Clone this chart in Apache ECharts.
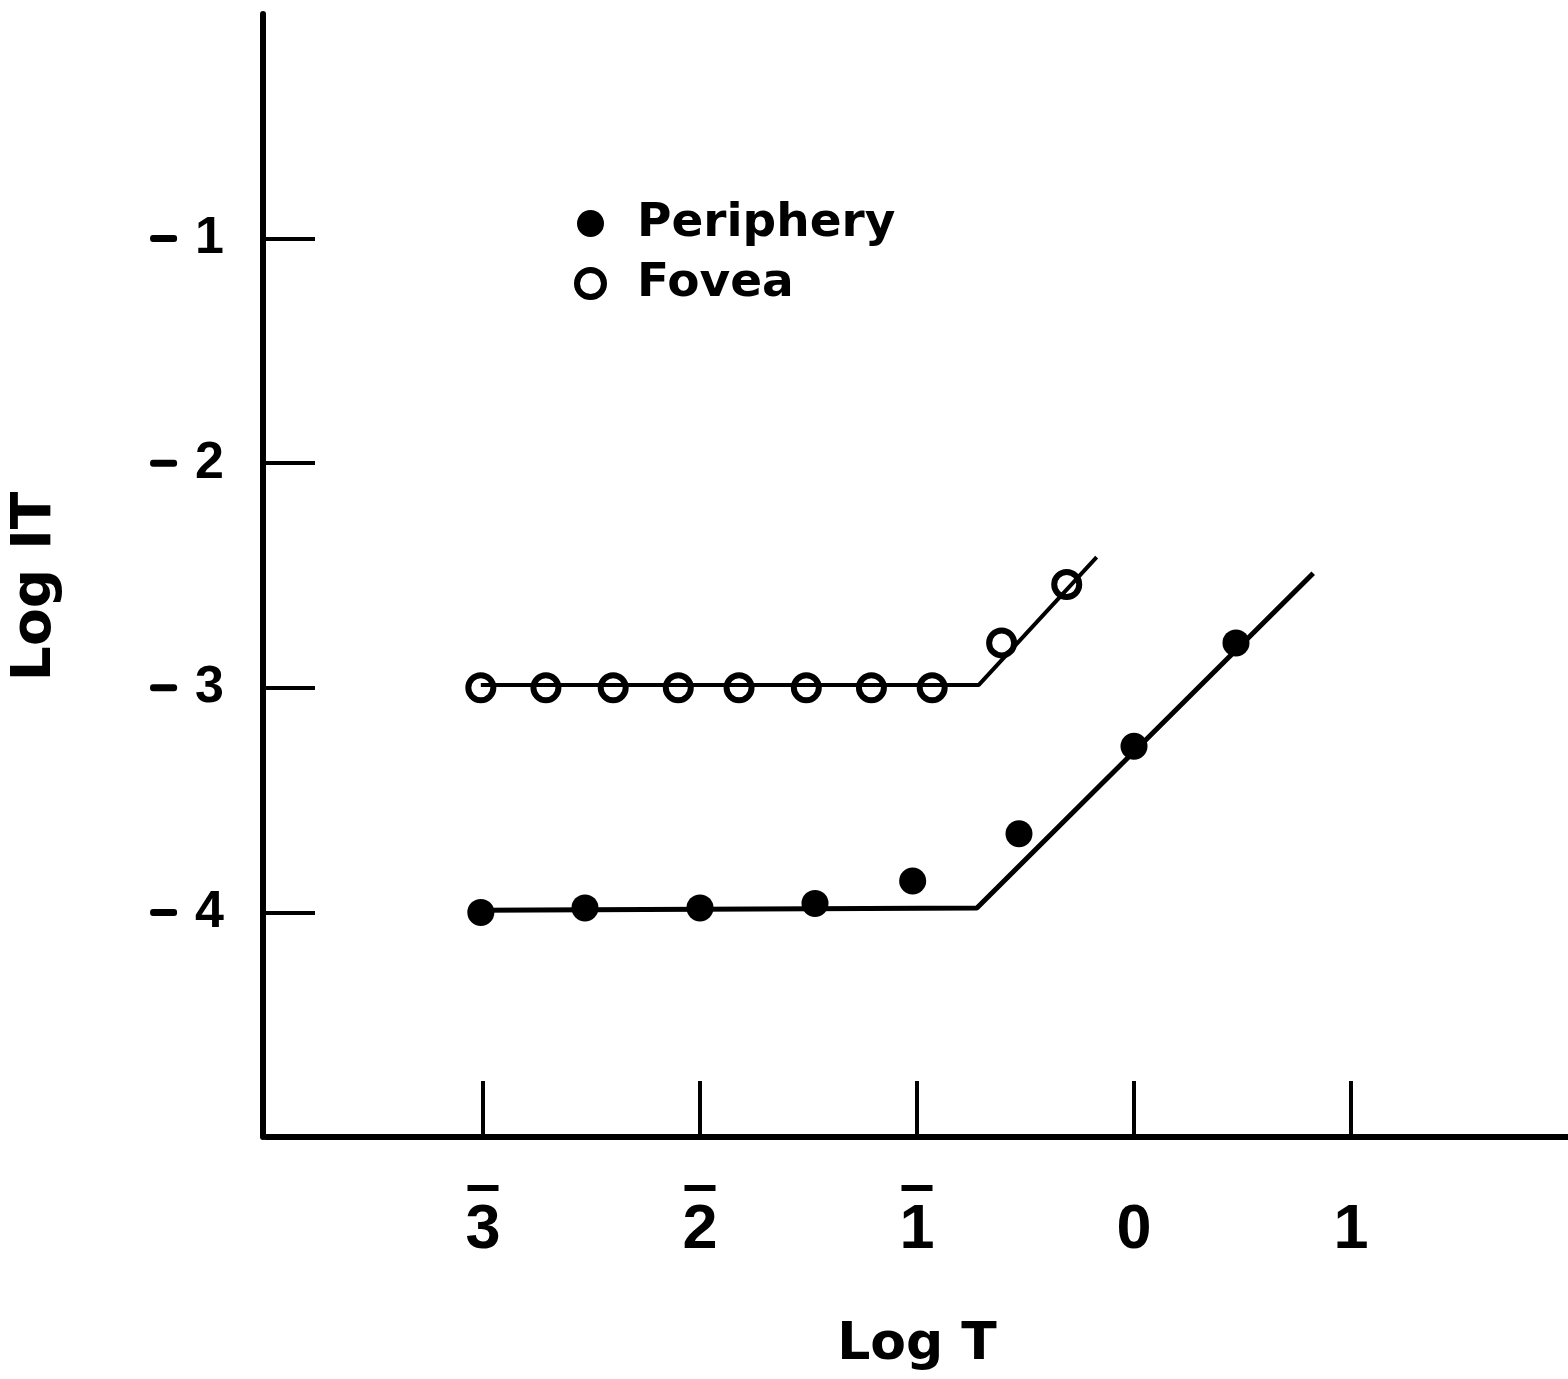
<!DOCTYPE html>
<html>
<head>
<meta charset="utf-8">
<script src="https://cdn.jsdelivr.net/npm/echarts@6/dist/echarts.min.js"></script>
<style>
html,body{margin:0;padding:0;background:#fff;}
#chart{width:1568px;height:1379px;}
</style>
</head>
<body>
<div id="chart"></div>
<script>
// ---- data ----
var xTicks = [-3, -2, -1, 0, 1];
var yTicks = [-4, -3, -2, -1];
var foveaX = [-3.01, -2.71, -2.40, -2.10, -1.82, -1.51, -1.21, -0.93, -0.61, -0.31];
var foveaY = [-3.00, -3.00, -3.00, -3.00, -3.00, -3.00, -3.00, -3.00, -2.80, -2.54];
var periX = [-3.01, -2.53, -2.00, -1.47, -1.02, -0.53, 0.00, 0.47];
var periY = [-4.00, -3.98, -3.98, -3.96, -3.86, -3.65, -3.26, -2.80];
var foveaFitX = [-3.01, -0.715, -0.172];
var foveaFitY = [-2.987, -2.987, -2.418];
var periFitX = [-3.01, -0.724, 0.826];
var periFitY = [-3.99, -3.98, -2.49];

function pairs(xs, ys) { return xs.map(function (x, i) { return [x, ys[i]]; }); }

var chart = echarts.init(document.getElementById('chart'));
var digitFont = 'Liberation Sans';
var textFont = 'DejaVu Sans';

chart.setOption({
  animation: false,
  backgroundColor: '#fff',
  grid: { left: 266, right: 0, top: 14, bottom: 242, containLabel: false },
  legend: {
    orient: 'vertical',
    left: 569,
    top: 195,
    itemWidth: 27,
    itemHeight: 27,
    itemGap: 13,
    icon: 'circle',
    textStyle: { fontFamily: textFont, fontWeight: 'bold', fontSize: 47, color: '#000', padding: [0, 0, 0, 28] },
    data: [
      { name: 'Periphery', itemStyle: { color: '#000', borderWidth: 0 } },
      { name: 'Fovea', itemStyle: { color: '#fff', borderColor: '#000', borderWidth: 6 } }
    ]
  },
  xAxis: {
    type: 'value', min: -4, max: 2, interval: 1,
    name: 'Log T', nameLocation: 'middle', nameGap: 182,
    nameTextStyle: { fontFamily: textFont, fontWeight: 'bold', fontSize: 52, color: '#000' },
    axisLine: { show: true, onZero: false, lineStyle: { color: '#000', width: 6 } },
    axisTick: { show: true, inside: true, length: 56, customValues: xTicks, lineStyle: { color: '#000', width: 4 } },
    splitLine: { show: false },
    axisLabel: {
      customValues: xTicks, margin: 48, color: '#000',
      formatter: function (v) {
        return (v < 0 ? '{bar|\u2003}' : '{nob|\u2003}') + '\n{d|' + Math.abs(v) + '}';
      },
      rich: {
        bar: { backgroundColor: '#000', width: 31, height: 6, lineHeight: 6, fontSize: 4 },
        nob: { width: 31, height: 6, lineHeight: 6, fontSize: 4 },
        d: { fontFamily: digitFont, fontWeight: 'bold', fontSize: 63, lineHeight: 80, color: '#000' }
      }
    }
  },
  yAxis: {
    type: 'value', min: -5, max: 0, interval: 1, offset: 3,
    name: 'Log IT', nameLocation: 'middle', nameGap: 200, nameRotate: 90,
    nameTextStyle: { fontFamily: textFont, fontWeight: 'bold', fontSize: 55, color: '#000', padding: [0, 22, 0, 0] },
    axisLine: { show: true, onZero: false, lineStyle: { color: '#000', width: 6 } },
    axisTick: { show: true, inside: true, length: 52, customValues: yTicks, lineStyle: { color: '#000', width: 4 } },
    splitLine: { show: false },
    axisLabel: {
      customValues: yTicks, margin: 39, color: '#000',
      formatter: function (v) { return '{m|\u2003}{s|\u2003}{d|' + Math.abs(v) + '}'; },
      rich: {
        m: { backgroundColor: '#000', width: 27, height: 7, lineHeight: 7, fontSize: 4, borderRadius: 3 },
        s: { width: 18, fontSize: 4 },
        d: { fontFamily: digitFont, fontWeight: 'bold', fontSize: 52, color: '#000' }
      }
    }
  },
  series: [
    {
      name: 'FoveaFit', type: 'line', data: pairs(foveaFitX, foveaFitY),
      showSymbol: false, silent: true, lineStyle: { color: '#000', width: 4 }, z: 2
    },
    {
      name: 'PeripheryFit', type: 'line', data: pairs(periFitX, periFitY),
      showSymbol: false, silent: true, lineStyle: { color: '#000', width: 5 }, z: 2
    },
    {
      name: 'Periphery', type: 'scatter', data: pairs(periX, periY),
      symbol: 'circle', symbolSize: 27, itemStyle: { color: '#000', opacity: 1 }, z: 3
    },
    {
      name: 'Fovea', type: 'scatter', data: pairs(foveaX, foveaY),
      symbol: 'circle', symbolSize: 25, itemStyle: { color: 'rgba(0,0,0,0)', borderColor: '#000', borderWidth: 6, opacity: 1 }, z: 3
    }
  ]
});
</script>
</body>
</html>
